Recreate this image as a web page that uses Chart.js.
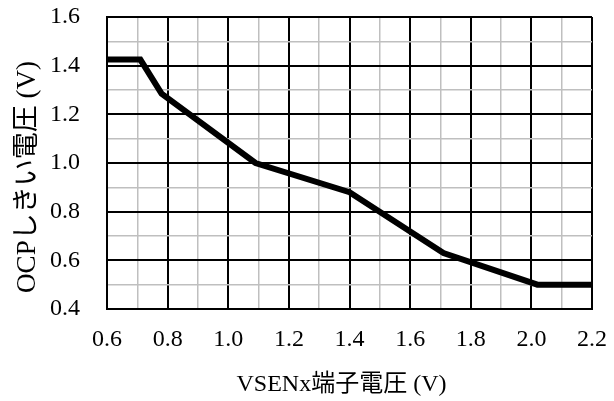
<!DOCTYPE html>
<html>
<head>
<meta charset="utf-8">
<script src="https://cdn.jsdelivr.net/npm/chart.js@4"></script>
<style>
  html, body { margin: 0; padding: 0; background: #fff; }
  #wrap { width: 614px; height: 401px; }
</style>
</head>
<body>
<div id="wrap"><canvas id="c" width="614" height="401"></canvas></div>
<script>
const xValues = [0.6, 0.71, 0.78, 1.09, 1.40, 1.71, 2.02, 2.2];
const yValues = [1.425, 1.425, 1.285, 1.00, 0.88, 0.63, 0.50, 0.50];
const xTitle = 'VSENx端子電圧 (V)';
const yTitle = 'OCPしきい電圧 (V)';
const xRange = [0.6, 2.2];
const yRange = [0.4, 1.6];

const FONT = "'Liberation Serif', 'Noto Sans CJK JP', serif";

const points = xValues.map((x, i) => ({ x: x, y: yValues[i] }));

function gridColor(ctx) { return ctx.index % 2 === 0 ? '#000000' : '#bfbfbf'; }
function gridWidth(ctx) { return ctx.index % 2 === 0 ? 2 : 1.5; }
function tickLabel(value, index) { return index % 2 === 0 ? Number(value).toFixed(1) : ''; }

// Axis titles drawn as canvas text at the positions used in the reference
const axisTitles = {
  id: 'axisTitles',
  afterDraw(chart) {
    const ctx = chart.ctx;
    const area = chart.chartArea;
    ctx.save();
    ctx.fillStyle = '#000';
    ctx.textAlign = 'center';
    ctx.textBaseline = 'middle';
    ctx.font = "24px " + FONT;
    ctx.fillText(xTitle, (area.left + area.right) / 2 - 8, 385);
    ctx.translate(28, (area.top + area.bottom) / 2 + 14);
    ctx.rotate(-Math.PI / 2);
    ctx.font = "27px " + FONT;
    ctx.fillText(yTitle, 0, 0);
    ctx.restore();
  }
};

new Chart(document.getElementById('c'), {
  type: 'line',
  data: {
    datasets: [{
      data: points,
      borderColor: '#000000',
      borderWidth: 6,
      pointRadius: 0,
      tension: 0,
      fill: false,
      borderJoinStyle: 'miter'
    }]
  },
  plugins: [axisTitles],
  options: {
    responsive: false,
    animation: false,
    events: [],
    layout: { padding: { top: 17, right: 22, left: 0, bottom: 0 } },
    plugins: { legend: { display: false }, tooltip: { enabled: false } },
    scales: {
      x: {
        type: 'linear',
        min: xRange[0], max: xRange[1],
        afterFit(scale) { scale.height = 92; scale.paddingLeft = 0; scale.paddingRight = 0; },
        border: { display: true, color: '#000', width: 2 },
        grid: { color: gridColor, lineWidth: gridWidth, drawTicks: false },
        ticks: {
          stepSize: 0.1, autoSkip: false, maxRotation: 0,
          padding: 19,
          color: '#000',
          font: { family: FONT, size: 24, lineHeight: 1 },
          callback: tickLabel
        },
        title: { display: false, text: xTitle }
      },
      y: {
        type: 'linear',
        min: yRange[0], max: yRange[1],
        afterFit(scale) { scale.width = 107; scale.paddingTop = 0; scale.paddingBottom = 0; },
        border: { display: true, color: '#000', width: 2 },
        grid: { color: gridColor, lineWidth: gridWidth, drawTicks: false },
        ticks: {
          stepSize: 0.1, autoSkip: false,
          padding: 27,
          color: '#000',
          font: { family: FONT, size: 24, lineHeight: 1 },
          callback: tickLabel
        },
        title: { display: false, text: yTitle }
      }
    }
  }
});
</script>
</body>
</html>
